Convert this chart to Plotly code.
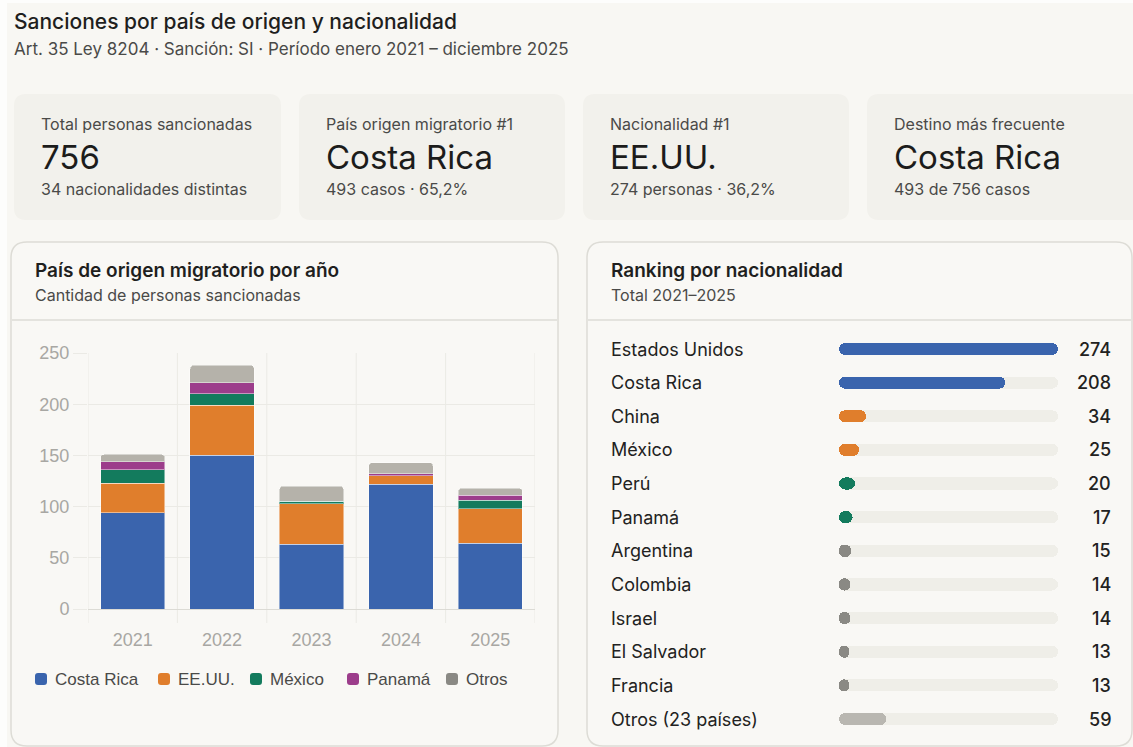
import plotly.graph_objects as go

W, H = 1133, 747
MT, MB = 9, 9          # top / bottom figure margins
PH = H - MT - MB       # height of the paper area

# ---- data -------------------------------------------------------------
years = ["2021", "2022", "2023", "2024", "2025"]
origen_costa_rica = [94, 150, 63, 122, 64]
origen_eeuu = [29, 49, 40, 8, 34]
origen_mexico = [13, 11, 2, 0, 8]
origen_panama = [8, 11, 0, 2, 5]
origen_otros = [7, 17, 15, 11, 7]

nacionalidades = ["Estados Unidos", "Costa Rica", "China", "México", "Perú", "Panamá",
                  "Argentina", "Colombia", "Israel", "El Salvador", "Francia",
                  "Otros (23 países)"]
casos_nacionalidad = [274, 208, 34, 25, 20, 17, 15, 14, 14, 13, 13, 59]

kpi_labels = ["Total personas sancionadas", "País origen migratorio #1",
              "Nacionalidad #1", "Destino más frecuente"]
kpi_values = ["756", "Costa Rica", "EE.UU.", "Costa Rica"]
kpi_notes = ["34 nacionalidades distintas", "493 casos · 65,2%",
             "274 personas · 36,2%", "493 de 756 casos"]

# ---- style ------------------------------------------------------------
BLUE, ORANGE, GREEN, PURPLE = "#3a64ad", "#e07e2c", "#137b5d", "#9c3d8b"
GREY_BAR, GREY_DOT, GREY_OTROS = "#b5b2aa", "#8a8984", "#b9b7b1"
PAGE, CARD, PANEL, BORDER = "#f8f7f3", "#f2f1ec", "#f9f8f5", "#dddcd6"
TRACK = "#efeee8"
FONT = "Inter"
TICK_FONT = "Liberation Sans"
TEXT_DARK, TEXT_MID, TEXT_TICK = "#1f1f1e", "#4a4a48", "#a8a7a3"

series = [
    ("Costa Rica", origen_costa_rica, BLUE, BLUE),
    ("EE.UU.", origen_eeuu, ORANGE, ORANGE),
    ("México", origen_mexico, GREEN, GREEN),
    ("Panamá", origen_panama, PURPLE, PURPLE),
    ("Otros", origen_otros, GREY_BAR, GREY_DOT),
]
rank_colors = [BLUE, BLUE, ORANGE, ORANGE, GREEN, GREEN,
               GREY_DOT, GREY_DOT, GREY_DOT, GREY_DOT, GREY_DOT, GREY_OTROS]


def px(x):
    return x / W


def py(y):
    return 1 - (y - MT) / PH


def rounded_rect(x0, y0, x1, y1, r):
    pts = [
        ("M", [(x0 + r, y0)]), ("L", [(x1 - r, y0)]), ("Q", [(x1, y0), (x1, y0 + r)]),
        ("L", [(x1, y1 - r)]), ("Q", [(x1, y1), (x1 - r, y1)]),
        ("L", [(x0 + r, y1)]), ("Q", [(x0, y1), (x0, y1 - r)]),
        ("L", [(x0, y0 + r)]), ("Q", [(x0, y0), (x0 + r, y0)]),
    ]
    out = []
    for cmd, coords in pts:
        out.append(cmd + " " + " ".join(f"{px(a):.5f},{py(b):.5f}" for a, b in coords))
    return " ".join(out) + " Z"


fig = go.Figure()

# ---- stacked bars: origin country per year ---------------------------
for name, vals, color, _ in series:
    fig.add_trace(go.Bar(
        x=years, y=vals, name=name,
        marker=dict(color=color, cornerradius=4,
                    line=dict(color="rgba(255,255,255,0.45)", width=1)),
        xaxis="x", yaxis="y", showlegend=False, hoverinfo="x+y+name",
    ))

# ---- ranking: rounded track behind each value bar ---------------------
rows = list(range(len(nacionalidades)))
track_max = max(casos_nacionalidad)
zero_base = [0] * len(rows)
fig.add_trace(go.Bar(
    y=rows, x=[track_max] * len(rows), base=zero_base, orientation="h",
    marker=dict(color=TRACK, cornerradius=6, line=dict(width=0)),
    width=0.36, xaxis="x2", yaxis="y2", showlegend=False, hoverinfo="skip",
))
fig.add_trace(go.Bar(
    y=rows, x=casos_nacionalidad, base=zero_base, orientation="h",
    marker=dict(color=rank_colors, cornerradius=6, line=dict(width=0)),
    width=0.36, xaxis="x2", yaxis="y2", showlegend=False,
    hovertemplate="%{x}<extra></extra>",
))

shapes = []
annotations = []

# page, cards, panels
shapes.append(dict(type="rect", xref="paper", yref="paper", x0=px(7), x1=1, y0=py(H), y1=py(3),
                   fillcolor=PAGE, line=dict(width=0), layer="below"))
card_x = [(14, 281), (299, 565), (583, 849), (867, 1150)]
for (x0, x1), lab, val, note in zip(card_x, kpi_labels, kpi_values, kpi_notes):
    shapes.append(dict(type="path", xref="paper", yref="paper",
                       path=rounded_rect(x0, 94, x1, 220, 12),
                       fillcolor=CARD, line=dict(width=0), layer="below"))
    tx = px(x0 + 27)
    annotations += [
        dict(x=tx, y=py(124), text=lab, font=dict(family=FONT, size=16, color=TEXT_MID)),
        dict(x=tx, y=py(157), text=val, font=dict(family=FONT, size=33, color="#1c1c1b")),
        dict(x=tx, y=py(189), text=note, font=dict(family=FONT, size=16, color=TEXT_MID)),
    ]

for x0, x1 in [(11, 558), (587, 1132)]:
    shapes.append(dict(type="path", xref="paper", yref="paper",
                       path=rounded_rect(x0, 242, x1, 746, 16),
                       fillcolor=PANEL, line=dict(color=BORDER, width=1.5), layer="below"))
    shapes.append(dict(type="line", xref="paper", yref="paper", x0=px(x0 + 1), x1=px(x1 - 1),
                       y0=py(320), y1=py(320), line=dict(color=BORDER, width=1.5), layer="below"))

# vertical grid lines between years
PLOT_TOP, PLOT_BOTTOM = 353, 609
for k in range(len(years) + 1):
    shapes.append(dict(type="line", xref="x", yref="y domain", x0=k - 0.5, x1=k - 0.5,
                       y0=-14 / (PLOT_BOTTOM - PLOT_TOP), y1=1,
                       line=dict(color="#ebeae5", width=1), layer="below"))

# header texts
annotations += [
    dict(x=px(14), y=py(22), text="Sanciones por país de origen y nacionalidad",
         font=dict(family=FONT, size=21, color=TEXT_DARK, weight=500)),
    dict(x=px(14), y=py(49), text="Art. 35 Ley 8204 · Sanción: SI · Período enero 2021 – diciembre 2025",
         font=dict(family=FONT, size=17, color=TEXT_MID)),
    dict(x=px(35), y=py(270), text="País de origen migratorio por año",
         font=dict(family=FONT, size=19, color=TEXT_DARK, weight=600)),
    dict(x=px(35), y=py(295), text="Cantidad de personas sancionadas",
         font=dict(family=FONT, size=16, color=TEXT_MID)),
    dict(x=px(611), y=py(270), text="Ranking por nacionalidad",
         font=dict(family=FONT, size=19, color=TEXT_DARK, weight=600)),
    dict(x=px(611), y=py(295), text="Total 2021–2025",
         font=dict(family=FONT, size=16, color=TEXT_MID)),
]

# legend of the stacked chart
legend_x = [35, 158, 250, 347, 446]
for lx, (name, _, _, swatch) in zip(legend_x, series):
    shapes.append(dict(type="path", xref="paper", yref="paper",
                       path=rounded_rect(lx, 673, lx + 12, 685, 3),
                       fillcolor=swatch, line=dict(width=0)))
    annotations.append(dict(x=px(lx + 20), y=py(679), text=name,
                            font=dict(family=TICK_FONT, size=17, color=TEXT_MID)))

# ranking labels and values
for i, (name, v) in enumerate(zip(nacionalidades, casos_nacionalidad)):
    annotations.append(dict(x=px(611), y=i, yref="y2", text=name,
                            font=dict(family=FONT, size=18, color="#222221")))
    annotations.append(dict(x=px(1111), y=i, yref="y2", text=str(v), xanchor="right",
                            xshift=2,
                            font=dict(family=FONT, size=18, color="#222221", weight=500)))

for a in annotations:
    a.setdefault("xref", "paper")
    a.setdefault("yref", "paper")
    a.setdefault("xanchor", "left")
    a.setdefault("yanchor", "middle")
    if a["xanchor"] == "left":
        a.setdefault("xshift", -2)
    a["showarrow"] = False

ROW_FIRST, ROW_LAST = 349, 719
row_h = (ROW_LAST - ROW_FIRST) / (len(rows) - 1)

fig.update_layout(
    width=W, height=H, margin=dict(l=0, r=0, t=MT, b=MB, autoexpand=False),
    paper_bgcolor="#fdfdfc", plot_bgcolor="rgba(0,0,0,0)",
    barmode="stack", bargap=0.28, showlegend=False,
    shapes=shapes, annotations=annotations,
    xaxis=dict(domain=[px(88), px(535)], range=[-0.5, 4.5], type="category",
               showgrid=False, zeroline=False, showline=False, automargin=False,
               ticks="outside", ticklen=14, tickcolor="rgba(0,0,0,0)",
               tickfont=dict(family=TICK_FONT, size=18, color=TEXT_TICK), fixedrange=True),
    yaxis=dict(domain=[py(PLOT_BOTTOM), py(PLOT_TOP)], range=[0, 250],
               tickvals=[0, 50, 100, 150, 200, 250], automargin=False,
               showgrid=True, gridcolor="#ebeae5", gridwidth=1,
               zeroline=True, zerolinecolor="#dcdbd5", zerolinewidth=1,
               ticks="outside", ticklen=14, tickcolor="#ebeae5",
               tickfont=dict(family=TICK_FONT, size=18, color=TEXT_TICK), fixedrange=True),
    xaxis2=dict(domain=[px(839), px(1058)], range=[0, track_max], anchor="y2",
                visible=False, fixedrange=True),
    yaxis2=dict(domain=[py(ROW_LAST + row_h / 2), py(ROW_FIRST - row_h / 2)],
                range=[len(rows) - 0.5, -0.5], anchor="x2", visible=False, fixedrange=True),
)

fig.write_html("out.html", config={"displayModeBar": False})
